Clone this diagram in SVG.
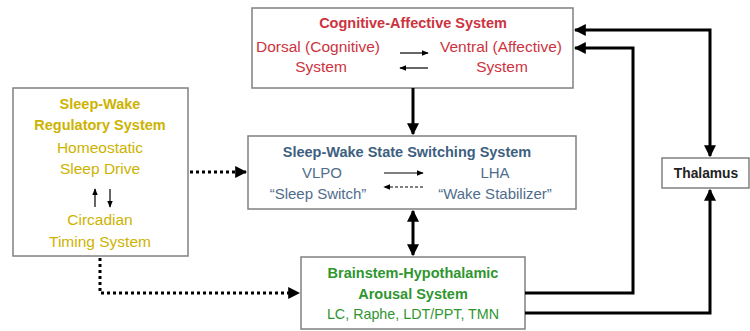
<svg xmlns="http://www.w3.org/2000/svg" width="750" height="331" viewBox="0 0 750 331">
<defs>
<style>
.box{fill:#fff;stroke:#808080;stroke-width:1.5}
text{font-family:"Liberation Sans",Arial,sans-serif;text-anchor:middle}
.b{font-weight:bold;font-size:14.5px}
.red{fill:#cc3340}
.yel{fill:#cdb300}
.blu{fill:#3e5f80}
.blu2{fill:#4f6d8c}
.grn{fill:#2f962f}
.blk{fill:#222}
.thick{stroke:#000;stroke-width:3;fill:none}
.thin{stroke:#000;stroke-width:1.2;fill:none}
.dot{stroke:#000;stroke-width:3;fill:none;stroke-dasharray:3 3}
</style>
<marker id="ah" viewBox="0 0 10 10" refX="9" refY="5" markerWidth="4" markerHeight="4" orient="auto-start-reverse"><path d="M0,0 L10,5 L0,10 z" fill="#000"/></marker>
<marker id="as" viewBox="0 0 10 10" refX="9" refY="5" markerWidth="6" markerHeight="6" orient="auto-start-reverse"><path d="M0,1 L10,5 L0,9 z" fill="#000"/></marker>
</defs>
<g id="cognitive">
<rect class="box" x="252" y="8" width="321" height="80"/>
<text class="b red" x="413" y="28">Cognitive-Affective System</text>
<text class="red" x="318" y="52" font-size="15.5">Dorsal (Cognitive)</text>
<text class="red" x="321" y="72" font-size="15.5">System</text>
<text class="red" x="501" y="52" font-size="15.5">Ventral (Affective)</text>
<text class="red" x="502" y="72" font-size="15.5">System</text>
<line class="thin" x1="400" y1="53" x2="428" y2="53" marker-end="url(#as)"/>
<line class="thin" x1="428" y1="68" x2="400" y2="68" marker-end="url(#as)"/>
</g>
<g id="regulatory">
<rect class="box" x="13" y="88" width="175" height="168"/>
<text class="b yel" x="100" y="109">Sleep-Wake</text>
<text class="b yel" x="100" y="130">Regulatory System</text>
<text class="yel" x="100" y="153" font-size="15.5">Homeostatic</text>
<text class="yel" x="100" y="174" font-size="15.5">Sleep Drive</text>
<line class="thin" x1="95" y1="207" x2="95" y2="189" marker-end="url(#as)"/>
<line class="thin" x1="110" y1="189" x2="110" y2="207" marker-end="url(#as)"/>
<text class="yel" x="100" y="225" font-size="15.5">Circadian</text>
<text class="yel" x="100" y="247" font-size="15.5">Timing System</text>
</g>
<g id="switching">
<rect class="box" x="248" y="136" width="328" height="73"/>
<text class="b blu" x="407" y="157">Sleep-Wake State Switching System</text>
<text class="blu2" x="322" y="178" font-size="15">VLPO</text>
<text class="blu2" x="318" y="199" font-size="15">“Sleep Switch”</text>
<text class="blu2" x="495" y="178" font-size="15">LHA</text>
<text class="blu2" x="495" y="199" font-size="15">“Wake Stabilizer”</text>
<line class="thin" x1="384" y1="173" x2="423" y2="173" marker-end="url(#as)"/>
<line class="thin" x1="423" y1="187" x2="384" y2="187" stroke-dasharray="3 2" marker-end="url(#as)"/>
</g>
<g id="brainstem">
<rect class="box" x="301" y="257" width="224" height="72"/>
<text class="b grn" x="413" y="278">Brainstem-Hypothalamic</text>
<text class="b grn" x="413" y="299">Arousal System</text>
<text class="grn" x="413" y="319" font-size="14.3">LC, Raphe, LDT/PPT, TMN</text>
</g>
<g id="thalamus">
<rect class="box" x="662" y="158" width="87" height="30"/>
<text class="b blk" x="706" y="178" style="font-size:13.8px">Thalamus</text>
</g>
<g id="connectors">
<line class="thick" x1="413" y1="88" x2="413" y2="134" marker-end="url(#ah)"/>
<line class="thick" x1="413" y1="211" x2="413" y2="255" marker-start="url(#ah)" marker-end="url(#ah)"/>
<polyline class="thick" points="575,30 710,30 710,156" marker-start="url(#ah)" marker-end="url(#ah)"/>
<polyline class="thick" points="525,293 633,293 633,48 575,48" marker-end="url(#ah)"/>
<polyline class="thick" points="525,313 710,313 710,190" marker-end="url(#ah)"/>
<line class="dot" x1="190" y1="172" x2="246" y2="172" marker-end="url(#ah)"/>
<polyline class="dot" points="100,258 100,293 299,293" marker-end="url(#ah)"/>
</g>
</svg>
